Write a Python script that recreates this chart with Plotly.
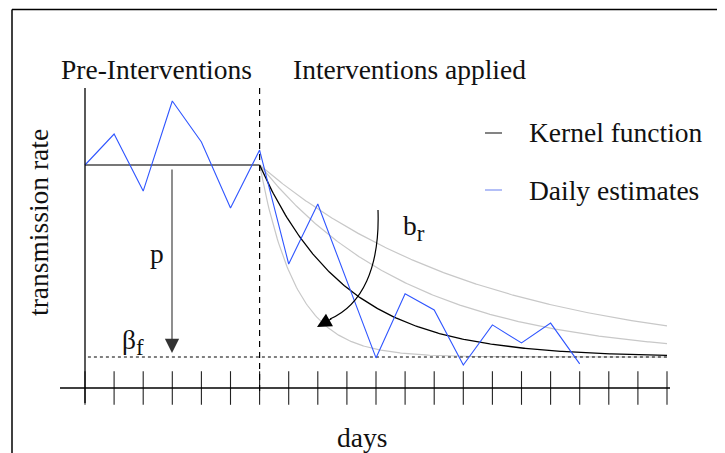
import numpy as np
import plotly.graph_objects as go

# ---------------- data ----------------
est_days = list(range(18))
daily_estimates = [1.000, 1.139, 0.883, 1.287, 1.103, 0.807, 1.067, 0.556, 0.825,
                   0.480, 0.135, 0.422, 0.350, 0.103, 0.283, 0.202, 0.291, 0.108]
tick_days = list(range(21))
beta0 = 1.0          # pre-intervention transmission rate
beta_f = 0.139       # final transmission rate
t_intervention = 6   # day interventions applied
t_end = 20
kernel_rate = 0.34
alt_rates = [0.13, 0.19, 0.8]

# ---------------- helpers ----------------
def kernel(rate):
    t = np.linspace(t_intervention, t_end, 300)
    return t, beta_f + (beta0 - beta_f) * np.exp(-rate * (t - t_intervention))

# page has an 8px body margin -> figure is 717x445 drawn at (8,8)
W, H, OFF = 717, 445, 8
PX_DAY, X_ORIGIN = 29.1, 85      # screen px per day, screen x of day 0
PX_UNIT, Y_ORIGIN = 223, 388     # screen px per unit, screen y of 0

def dx(sx):  # screen x -> data x
    return (sx - X_ORIGIN) / PX_DAY

def dy(sy):  # screen y -> data y
    return (Y_ORIGIN - sy) / PX_UNIT

def px(sx):
    return (sx - OFF) / W

def py(sy):
    return 1 - (sy - OFF) / H

FONT = "Liberation Serif"
FS = 27.5
fig = go.Figure()

# alternative kernels (grey)
for r in alt_rates:
    t, y = kernel(r)
    fig.add_trace(go.Scatter(x=t, y=y, mode="lines",
                             line=dict(color="#c8c8c8", width=1.2), hoverinfo="skip"))

# flat pre-intervention part
fig.add_trace(go.Scatter(x=[0, t_intervention], y=[beta0, beta0], mode="lines",
                         line=dict(color="#4a4a4a", width=1.4), hoverinfo="skip"))
# kernel function
t, y = kernel(kernel_rate)
fig.add_trace(go.Scatter(x=t, y=y, mode="lines",
                         line=dict(color="black", width=1.3), hoverinfo="skip"))

# beta_f dotted line
fig.add_trace(go.Scatter(x=[0.1, t_end], y=[beta_f, beta_f], mode="lines",
                         line=dict(color="black", width=1, dash="dot"), hoverinfo="skip"))

# daily estimates
fig.add_trace(go.Scatter(x=est_days, y=daily_estimates, mode="lines",
                         line=dict(color="#2f55ff", width=1.1), hoverinfo="skip"))

# axis ticks (cross the axis)
fig.add_trace(go.Scatter(x=tick_days, y=[0] * len(tick_days), mode="markers",
                         marker=dict(symbol="line-ns", size=24,
                                     line=dict(color="#222", width=1.1)),
                         hoverinfo="skip"))

shapes = [
    # x axis
    dict(type="line", xref="x", yref="y", x0=dx(60), x1=dx(670), y0=0, y1=0,
         line=dict(color="black", width=1.4)),
    # y axis
    dict(type="line", xref="x", yref="y", x0=0, x1=0, y0=dy(88), y1=dy(403),
         line=dict(color="black", width=1.3)),
    # intervention dashed line
    dict(type="line", xref="x", yref="y", x0=t_intervention, x1=t_intervention,
         y0=dy(88), y1=dy(396),
         line=dict(color="black", width=1.2, dash="6px,5px")),
    # frame
    dict(type="line", xref="paper", yref="paper", x0=px(12), x1=1, y0=py(9.5), y1=py(9.5),
         line=dict(color="black", width=1.5)),
    dict(type="line", xref="paper", yref="paper", x0=px(12), x1=px(12), y0=py(9.5), y1=0,
         line=dict(color="black", width=1.5)),
    # curved b_r arrow
    dict(type="path", xref="x", yref="y",
         path=f"M {dx(378)},{dy(210)} C {dx(380)},{dy(268)} {dx(362)},{dy(305)} {dx(330)},{dy(319)}",
         line=dict(color="black", width=1.2)),
    # legend samples
    dict(type="line", xref="x", yref="y", x0=dx(485), x1=dx(502), y0=dy(133), y1=dy(133),
         line=dict(color="#333", width=1.2)),
    dict(type="line", xref="x", yref="y", x0=dx(485), x1=dx(502), y0=dy(190), y1=dy(190),
         line=dict(color="#9aaaf5", width=1.5)),
]

def txt(sx, sy, s, size=FS, xanchor="center", **kw):
    return dict(x=dx(sx), y=dy(sy), xref="x", yref="y", text=s, showarrow=False,
                xanchor=xanchor, yanchor="middle",
                font=dict(family=FONT, size=size, color="#111"), **kw)

annotations = [
    txt(156, 69, "Pre-Interventions"),
    txt(409, 69, "Interventions applied"),
    txt(527, 132, "Kernel function", xanchor="left"),
    txt(527, 190, "Daily estimates", xanchor="left"),
    txt(157, 253, "p"),
    txt(133, 342, "β<sub><span style='font-size:23px'>f</span></sub>"),
    txt(414, 228, "b<sub><span style='font-size:23px'>r</span></sub>"),
    txt(362, 437, "days"),
    txt(38, 223, "transmission rate", textangle=-90),
    # p arrow
    dict(x=dx(172), y=dy(353), ax=dx(172), ay=dy(168), xref="x", yref="y", axref="x", ayref="y",
         text="", showarrow=True, arrowhead=2, arrowsize=2.6, arrowwidth=1.1, arrowcolor="#333"),
    # b_r arrow head
    dict(x=dx(317), y=dy(327), ax=dx(333), ay=dy(318), xref="x", yref="y", axref="x", ayref="y",
         text="", showarrow=True, arrowhead=2, arrowsize=2.6, arrowwidth=1.1, arrowcolor="black"),
]

fig.update_layout(
    width=W, height=H, autosize=False,
    margin=dict(l=0, r=0, t=0, b=0),
    paper_bgcolor="white", plot_bgcolor="white",
    showlegend=False,
    xaxis=dict(range=[dx(OFF), dx(OFF + W)], visible=False, fixedrange=True),
    yaxis=dict(range=[dy(OFF + H), dy(OFF)], visible=False, fixedrange=True),
    shapes=shapes, annotations=annotations,
)

fig.write_html("out.html")
